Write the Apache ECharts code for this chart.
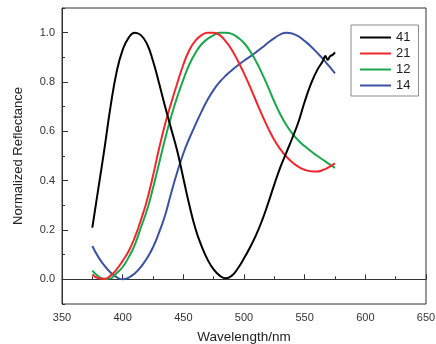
<!DOCTYPE html>
<html><head><meta charset="utf-8">
<script src="https://cdn.jsdelivr.net/npm/echarts@6/dist/echarts.min.js"></script>
<style>html,body{margin:0;padding:0;background:#fff}#c{width:436px;height:344px}</style>
</head><body><div id="c"></div>
<script>
const wavelengths = [375,380,385,390,395,400,405,410,415,420,425,430,435,440,445,450,455,460,465,470,475,480,485,490,495,500,505,510,515,520,525,530,535,540,545,550,555,560,565,570,575];
const blackWavelengths = [375,380,385,390,395,400,405,410,415,420,425,430,435,440,445,450,455,460,465,470,475,480,485,490,495,500,505,510,515,520,525,530,535,540,545,550,555,560,565,567,569,571,573,575];
const s41 = [0.21,0.37,0.53,0.70,0.84,0.93,0.98,1.0,0.99,0.955,0.885,0.795,0.70,0.61,0.52,0.41,0.30,0.205,0.135,0.08,0.04,0.015,0.004,0.015,0.045,0.085,0.13,0.18,0.24,0.31,0.385,0.455,0.515,0.575,0.64,0.72,0.79,0.845,0.885,0.905,0.89,0.905,0.91,0.92];
const s21 = [0.02,0.004,0.002,0.015,0.04,0.075,0.115,0.17,0.24,0.32,0.42,0.53,0.63,0.715,0.795,0.87,0.93,0.968,0.99,1.0,1.0,0.99,0.965,0.93,0.885,0.835,0.78,0.722,0.665,0.612,0.565,0.527,0.497,0.474,0.456,0.444,0.438,0.437,0.443,0.455,0.47];
const s12 = [0.035,0.012,0.001,0.004,0.025,0.05,0.09,0.14,0.21,0.28,0.37,0.47,0.57,0.66,0.74,0.81,0.872,0.918,0.953,0.975,0.99,1.0,1.0,0.995,0.98,0.958,0.925,0.883,0.833,0.778,0.72,0.668,0.625,0.59,0.562,0.54,0.52,0.502,0.485,0.468,0.452];
const s14 = [0.135,0.09,0.056,0.028,0.009,0.0,0.007,0.024,0.05,0.085,0.13,0.19,0.26,0.35,0.435,0.51,0.572,0.627,0.68,0.728,0.768,0.8,0.826,0.848,0.868,0.886,0.903,0.921,0.94,0.96,0.978,0.993,1.0,0.996,0.985,0.966,0.945,0.92,0.894,0.865,0.835];
const seriesNames = ['41','21','12','14'];
const colors = ['#000000','#f0282d','#1aa64a','#3b52a4'];
const yMajor = [0.0,0.2,0.4,0.6,0.8,1.0];
const yMinor = [-0.1,0.1,0.3,0.5,0.7,0.9,1.1];

const pairs = (xs, ys) => xs.map((x,i)=>[x, ys[i]]);
const datasets = [pairs(blackWavelengths,s41), pairs(wavelengths,s21), pairs(wavelengths,s12), pairs(wavelengths,s14)];

const chart = echarts.init(document.getElementById('c'), null, {renderer:'canvas'});
const axisCol = '#333';
chart.setOption({
  animation:false,
  backgroundColor:'#fff',
  textStyle:{fontFamily:'Liberation Sans, Arial, sans-serif'},
  grid:{left:62,right:10,top:8,bottom:40,containLabel:false,outerBoundsMode:'none',show:true,borderColor:axisCol,borderWidth:1,backgroundColor:'transparent'},
  legend:{
    orient:'vertical', left:351, top:25,
    data:seriesNames,
    icon:'path://M0,0H31V2H0Z',
    itemWidth:31, itemHeight:2, itemGap:3,
    padding:[6,8,4,9],
    borderColor:'#8a8a8a', borderWidth:1,
    textStyle:{fontSize:13,color:'#222',fontFamily:'Liberation Sans, Arial, sans-serif'}
  },
  xAxis:{
    type:'value', min:350, max:650, interval:50,
    name:'Wavelength/nm', nameLocation:'middle', nameGap:26,
    nameTextStyle:{fontSize:13.5,color:'#222'},
    axisLine:{show:true,lineStyle:{color:axisCol,width:1}},
    axisTick:{show:true,inside:true,length:5,lineStyle:{color:axisCol}},
    minorTick:{show:true,splitNumber:2,length:3,lineStyle:{color:axisCol}},
    axisLabel:{fontSize:11,color:'#333',margin:8},
    splitLine:{show:false}
  },
  yAxis:[{
    type:'value', min:-0.1, max:1.1, position:'left',
    name:'Normalized Reflectance', nameLocation:'middle', nameGap:37,
    nameTextStyle:{fontSize:13,color:'#222'},
    axisLine:{show:true,lineStyle:{color:axisCol,width:1}},
    axisTick:{show:true,inside:true,length:6,customValues:yMajor,lineStyle:{color:axisCol}},
    axisLabel:{fontSize:11,color:'#333',margin:7,customValues:yMajor,formatter:v=>v.toFixed(1)},
    splitLine:{show:false}
  },{
    type:'value', min:-0.1, max:1.1, position:'left', offset:0,
    axisLine:{show:false},
    axisTick:{show:true,inside:true,length:3,customValues:yMinor,lineStyle:{color:axisCol}},
    axisLabel:{show:false,customValues:yMinor},
    splitLine:{show:false}
  }],
  series: seriesNames.map((n,i)=>({
    name:n, type:'line', data:datasets[i], smooth:0.5, symbol:'none', showSymbol:false,
    lineStyle:{color:colors[i],width:2}, itemStyle:{color:colors[i]}, z:10-i
  }))
});
</script></body></html>
